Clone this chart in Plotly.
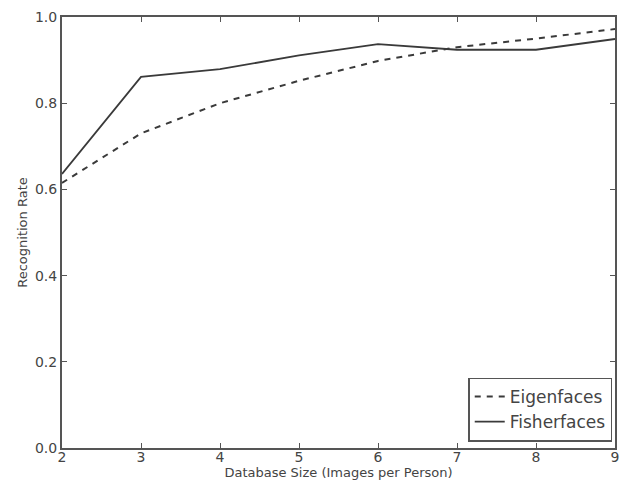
import plotly.graph_objects as go

sizes = [2, 3, 4, 5, 6, 7, 8, 9]
eigenfaces = [0.615, 0.730, 0.800, 0.852, 0.898, 0.930, 0.950, 0.972]
fisherfaces = [0.636, 0.861, 0.879, 0.911, 0.937, 0.924, 0.924, 0.949]

line_col = "#3a3a3a"
txt_col = "#444444"
fig = go.Figure()
fig.add_trace(go.Scatter(x=sizes, y=eigenfaces, mode="lines", name="Eigenfaces",
                         line=dict(color=line_col, width=2, dash="6px,6px")))
fig.add_trace(go.Scatter(x=sizes, y=fisherfaces, mode="lines", name="Fisherfaces",
                         line=dict(color=line_col, width=1.8)))

axis_common = dict(showgrid=False, zeroline=False, showline=True, linecolor="#555555",
                   linewidth=2, mirror="ticks", ticks="inside", ticklen=5, automargin=False,
                   tickcolor="#555555", tickfont=dict(family="DejaVu Sans", size=14, color=txt_col))
fig.update_layout(
    width=628, height=483,
    margin=dict(l=62, r=13, t=17, b=35),
    paper_bgcolor="white", plot_bgcolor="white",
    showlegend=True,
    legend=dict(x=0.995, y=0.015, xanchor="right", yanchor="bottom",
                bgcolor="white", bordercolor="#555555", borderwidth=1.5,
                font=dict(family="DejaVu Sans", size=17, color=txt_col),
                itemwidth=30, tracegroupgap=0),
    xaxis=dict(range=[2, 9], tickvals=sizes, ticklabelstandoff=-5, **axis_common,
               title=dict(text="Database Size (Images per Person)", standoff=0,
                          font=dict(family="DejaVu Sans", size=13, color=txt_col))),
    yaxis=dict(range=[0, 1], tickvals=[0, 0.2, 0.4, 0.6, 0.8, 1.0], tickformat=".1f", **axis_common,
               title=dict(text="Recognition Rate", standoff=4,
                          font=dict(family="DejaVu Sans", size=13, color=txt_col))),
)
fig.write_html("out.html", config={"displayModeBar": False},
               post_script="document.body.style.margin='0';")
